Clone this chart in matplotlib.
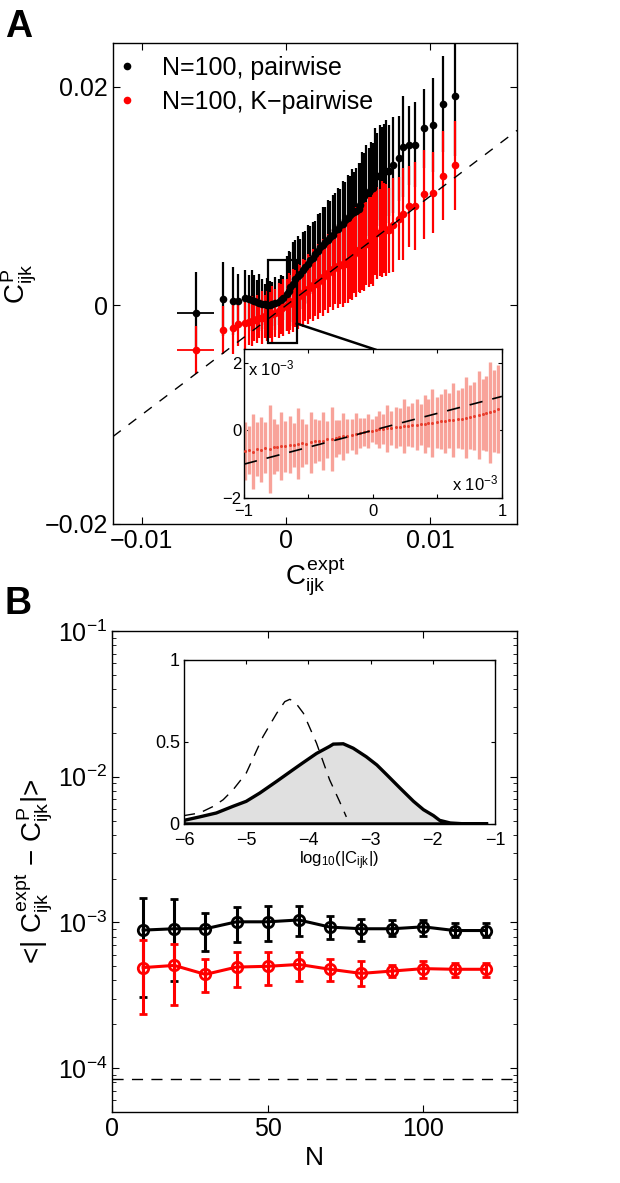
import matplotlib
matplotlib.use('Agg')
import matplotlib.pyplot as plt
import numpy as np
from matplotlib.patches import Rectangle

plt.rcParams['font.family'] = ['Liberation Sans', 'DejaVu Sans']
plt.rcParams['mathtext.fontset'] = 'custom'
plt.rcParams['mathtext.rm'] = 'Liberation Sans'
plt.rcParams['mathtext.it'] = 'Liberation Sans'
plt.rcParams['mathtext.bf'] = 'Liberation Sans:bold'

# ---------------- Panel A data (units of 1e-3) ----------------
c_expt = [-6.27, -4.40, -3.70, -3.31, -2.85, -2.60, -2.38, -2.20, -2.04, -1.85,
          -1.69, -1.50, -1.34, -1.15, -0.99, -0.80, -0.53, -0.35, -0.19, 0.05,
          0.18, 0.28, 0.45, 0.63, 0.80, 0.97, 1.15, 1.32, 1.50, 1.67,
          1.85, 2.01, 2.20, 2.36, 2.54, 2.71, 2.90, 3.06, 3.22, 3.40,
          3.57, 3.75, 3.92, 4.10, 4.27, 4.40, 4.55, 4.68, 4.85, 5.02,
          5.12, 5.25, 5.42, 5.53, 5.72, 5.87, 6.02, 6.18, 6.33, 6.48,
          6.63, 6.76, 6.93, 7.11, 7.41, 7.80, 8.10, 8.50, 8.96, 9.58,
          10.19, 10.88, 11.67]
pair_pred = [-0.67, 0.55, 0.39, 0.39, 0.67, 0.55, 0.46, 0.40, 0.30, 0.22,
             0.15, 0.08, 0.00, 0.05, 0.09, 0.18, 0.30, 0.50, 0.67, 1.07,
             1.35, 1.67, 1.95, 2.44, 2.70, 2.90, 3.20, 3.50, 3.75, 4.11,
             4.30, 4.72, 4.95, 5.33, 5.50, 5.78, 6.00, 6.24, 6.40, 6.85,
             6.95, 7.31, 7.45, 7.76, 7.95, 8.22, 8.40, 8.52, 8.65, 8.83,
             9.20, 9.68, 10.00, 10.29, 10.35, 10.60, 10.75, 11.72, 11.80, 11.87,
             12.10, 12.18, 12.25, 12.33, 12.85, 13.45, 14.52, 14.64, 14.70, 16.19,
             16.53, 18.39, 19.15]
pair_err = [3.7, 3.4, 3.1, 2.5, 2.6, 2.2, 2.8, 2.4, 2.0, 2.6,
            2.3, 1.9, 2.5, 2.2, 2.0, 2.4, 2.1, 2.3, 2.0, 3.4,
            3.6, 3.2, 3.8, 3.5, 3.6, 3.2, 3.5, 3.3, 3.6, 3.1,
            3.3, 3.0, 3.4, 3.1, 3.5, 3.2, 3.6, 3.3, 3.7, 3.4,
            3.8, 3.3, 3.9, 3.5, 4.0, 3.6, 4.1, 3.7, 3.9, 4.2,
            3.8, 4.3, 3.9, 4.4, 4.0, 4.3, 4.1, 4.5, 4.0, 4.6,
            4.2, 4.4, 4.7, 4.2, 4.4, 3.9, 4.6, 3.6, 3.9, 3.6,
            4.3, 4.4, 5.5]
kpair_pred = [-4.05, -2.22, -2.04, -1.74, -1.61, -1.50, -1.42, -1.33, -1.27, -1.18,
              -1.12, -1.02, -0.95, -0.88, -0.80, -0.70, -0.50, -0.36, -0.20, 0.02,
              0.15, 0.27, 0.44, 0.61, 0.80, 0.98, 1.16, 1.37, 1.52, 1.65,
              1.84, 1.98, 2.17, 2.38, 2.55, 2.74, 2.93, 3.10, 3.28, 3.50,
              3.58, 3.66, 3.74, 3.81, 4.05, 4.28, 4.50, 4.72, 4.90, 5.05,
              5.15, 5.33, 5.50, 5.62, 5.78, 5.95, 6.10, 6.64, 6.62, 6.64,
              6.95, 7.06, 6.90, 6.85, 7.37, 7.92, 8.37, 9.07, 9.07, 10.14,
              10.29, 11.87, 12.79]
kpair_err = [2.2, 2.2, 2.4, 2.0, 2.5, 2.1, 2.3, 1.9, 2.2, 1.8,
             2.4, 2.0, 2.3, 2.1, 2.6, 2.2, 2.5, 2.3, 2.6, 2.4,
             2.8, 2.5, 2.9, 2.6, 3.0, 2.7, 3.1, 2.8, 3.2, 2.9,
             3.3, 3.0, 3.4, 3.1, 3.5, 3.2, 3.6, 3.3, 3.7, 3.4,
             3.8, 3.5, 3.9, 3.6, 3.8, 3.7, 4.0, 3.6, 4.1, 3.8,
             4.0, 3.9, 4.2, 3.8, 4.1, 4.0, 4.3, 3.9, 4.2, 4.0,
             4.4, 4.1, 4.2, 3.9, 4.3, 3.8, 4.2, 3.7, 4.0, 4.1,
             3.7, 4.1, 4.1]
first_xerr = 1.3  # horizontal error of the left-most bin

zoom_box = [-1.23, -3.44, 1.97, 7.61]  # x0, y0, width, height (1e-3)
connector_x = [0.74, 6.18]
connector_y = [-1.67, -4.05]

# Inset A data (units of 1e-3)
in_x = [-0.99, -0.96, -0.93, -0.90, -0.87, -0.84, -0.80, -0.77, -0.74, -0.71,
        -0.68, -0.64, -0.61, -0.58, -0.55, -0.52, -0.48, -0.45, -0.42, -0.39,
        -0.36, -0.32, -0.29, -0.26, -0.23, -0.20, -0.16, -0.13, -0.10, -0.07,
        -0.04, -0.01, 0.02, 0.05, 0.08, 0.11, 0.14, 0.18, 0.21, 0.24,
        0.27, 0.30, 0.34, 0.37, 0.40, 0.43, 0.46, 0.50, 0.53, 0.56,
        0.59, 0.62, 0.66, 0.69, 0.72, 0.75, 0.78, 0.82, 0.85, 0.88,
        0.91, 0.94, 0.97]
in_y = [-0.62, -0.58, -0.63, -0.55, -0.57, -0.52, -0.55, -0.48, -0.50, -0.46,
        -0.47, -0.42, -0.44, -0.40, -0.38, -0.40, -0.35, -0.33, -0.31, -0.32,
        -0.27, -0.25, -0.24, -0.20, -0.18, -0.16, -0.13, -0.10, -0.08, -0.05,
        -0.03, -0.01, 0.01, 0.03, 0.04, 0.06, 0.07, 0.09, 0.10, 0.12,
        0.13, 0.15, 0.16, 0.18, 0.19, 0.21, 0.22, 0.24, 0.26, 0.27,
        0.29, 0.31, 0.33, 0.34, 0.37, 0.39, 0.42, 0.44, 0.47, 0.50,
        0.53, 0.57, 0.62]
in_err = [0.85, 0.70, 1.10, 0.80, 0.95, 0.75, 1.30, 0.80, 0.70, 1.00,
          0.75, 0.85, 0.65, 1.05, 0.70, 0.60, 0.90, 0.65, 0.60, 0.85,
          0.55, 0.95, 0.55, 0.50, 0.70, 0.50, 0.45, 0.60, 0.45, 0.40,
          0.50, 0.35, 0.40, 0.55, 0.45, 0.70, 0.50, 0.60, 0.55, 0.80,
          0.60, 0.65, 0.75, 0.60, 0.85, 0.70, 1.00, 0.75, 0.80, 0.95,
          0.80, 1.10, 0.85, 0.90, 1.20, 0.95, 1.00, 1.30, 1.05, 1.10,
          1.50, 1.20, 1.30]

# ---------------- Panel B data ----------------
N_vals = [10, 20, 30, 40, 50, 60, 70, 80, 90, 100, 110, 120]
pair_mean = [8.86e-4, 9.05e-4, 9.05e-4, 1.01e-3, 1.01e-3, 1.04e-3, 9.29e-4, 9.05e-4, 9.05e-4, 9.33e-4, 8.8e-4, 8.8e-4]
pair_hi = [1.48e-3, 1.44e-3, 1.17e-3, 1.27e-3, 1.29e-3, 1.29e-3, 1.10e-3, 1.05e-3, 1.04e-3, 1.04e-3, 9.95e-4, 9.9e-4]
pair_lo = [3.07e-4, 3.98e-4, 6.36e-4, 7.38e-4, 7.4e-4, 8.1e-4, 7.65e-4, 7.45e-4, 8.1e-4, 8.1e-4, 7.9e-4, 7.9e-4]
kpair_mean = [4.9e-4, 5.07e-4, 4.4e-4, 4.94e-4, 5.0e-4, 5.15e-4, 4.77e-4, 4.47e-4, 4.64e-4, 4.82e-4, 4.77e-4, 4.77e-4]
kpair_hi = [7.6e-4, 7.15e-4, 5.58e-4, 6.26e-4, 6.26e-4, 6.26e-4, 5.64e-4, 5.43e-4, 5.07e-4, 5.47e-4, 5.3e-4, 5.3e-4]
kpair_lo = [2.35e-4, 2.7e-4, 3.34e-4, 3.63e-4, 3.7e-4, 3.98e-4, 3.98e-4, 3.66e-4, 4.19e-4, 4.17e-4, 4.2e-4, 4.2e-4]
noise_floor = 8.4e-5

# Inset B data
hist_x_solid = [-6.0, -5.75, -5.48, -5.21, -5.0, -4.78, -4.51, -4.25, -4.10, -3.87,
                -3.66, -3.60, -3.44, -3.28, -3.07, -2.90, -2.74, -2.53, -2.31, -2.15,
                -1.99, -1.89, -1.72, -1.46, -1.11]
hist_solid = [0.022, 0.043, 0.067, 0.108, 0.138, 0.189, 0.26, 0.33, 0.37, 0.43,
              0.473, 0.487, 0.489, 0.462, 0.41, 0.36, 0.30, 0.22, 0.138, 0.087,
              0.051, 0.022, 0.006, 0.0, 0.0]
hist_x_dash = [-6.0, -5.75, -5.53, -5.37, -5.21, -5.0, -4.73, -4.51, -4.38, -4.30,
               -4.22, -4.08, -3.87, -3.66, -3.50, -3.39]
hist_dash = [0.051, 0.067, 0.107, 0.148, 0.209, 0.31, 0.533, 0.675, 0.746, 0.76,
             0.746, 0.675, 0.493, 0.27, 0.138, 0.043]

E = 1e-3
MINUS = '\u2212'

fig = plt.figure(figsize=(6.2, 11.83), dpi=100)

def style(ax, size, length=5):
    ax.tick_params(direction='in', top=True, right=True, labelsize=size,
                   length=length, width=0.8, which='major')
    ax.tick_params(direction='in', top=True, right=True, length=length * 0.55,
                   width=0.6, which='minor')
    for s in ax.spines.values():
        s.set_linewidth(1.0)

# ---------------- Panel A ----------------
axA = fig.add_axes([0.1823, 0.5571, 0.6516, 0.4066])
cx = np.array(c_expt) * E
axA.errorbar(cx, np.array(pair_pred) * E, yerr=np.array(pair_err) * E, fmt='none',
             ecolor='black', elinewidth=1.6, zorder=2)
axA.errorbar(cx, np.array(kpair_pred) * E, yerr=np.array(kpair_err) * E, fmt='none',
             ecolor='red', elinewidth=1.6, zorder=3)
axA.errorbar(cx[:1], np.array(pair_pred[:1]) * E, xerr=first_xerr * E, fmt='none',
             ecolor='black', elinewidth=1.3, zorder=2)
axA.errorbar(cx[:1], np.array(kpair_pred[:1]) * E, xerr=first_xerr * E, fmt='none',
             ecolor='red', elinewidth=1.3, zorder=3)
axA.plot(cx, np.array(pair_pred) * E, 'o', color='black', ms=5.5, mew=0, zorder=4,
         label='N=100, pairwise')
axA.plot(cx, np.array(kpair_pred) * E, 'o', color='red', ms=5.5, mew=0, zorder=4,
         label='N=100, K\u2212pairwise')
axA.axline((0, 0), slope=1, color='black', lw=1.0, ls=(0, (7, 7)), zorder=5)
axA.add_patch(Rectangle((zoom_box[0] * E, zoom_box[1] * E), zoom_box[2] * E, zoom_box[3] * E,
                        fill=False, ec='black', lw=1.6, zorder=6))
axA.plot(np.array(connector_x) * E, np.array(connector_y) * E, color='black', lw=1.8, zorder=6)
axA.set_xlim(-0.012, 0.016)
axA.set_ylim(-0.02, 0.024)
axA.set_xticks([-0.01, 0, 0.01])
axA.set_xticklabels([MINUS + '0.01', '0', '0.01'])
axA.set_yticks([-0.02, 0, 0.02])
axA.set_yticklabels([MINUS + '0.02', '0', '0.02'])
style(axA, 18, 5)
axA.set_xlabel(r'$C^{expt}_{ijk}$', fontsize=20, labelpad=2)
axA.set_ylabel(r'$C^{P}_{ijk}$', fontsize=20, labelpad=4)
leg = axA.legend(loc='upper left', bbox_to_anchor=(-0.028, 1.01), frameon=False, fontsize=18,
                 handlelength=0.6, handletextpad=1.1, labelspacing=0.4, markerscale=1.0,
                 borderaxespad=0.3)

# Inset A
axIA = fig.add_axes([0.3935, 0.579, 0.416, 0.126])
axIA.errorbar(in_x, in_y, yerr=in_err, fmt='none', ecolor='#f8a39a', elinewidth=2.4, zorder=2)
axIA.plot(in_x, in_y, 'o', color='#e8402f', ms=2.2, mew=0, zorder=3)
axIA.axline((0, 0), slope=1, color='black', lw=1.2, ls=(0, (8, 6)), zorder=4)
axIA.set_xlim(-1, 1)
axIA.set_ylim(-2, 2.4)
axIA.set_xticks([-1, -0.5, 0, 0.5, 1])
axIA.set_xticklabels([MINUS + '1', '', '0', '', '1'])
axIA.set_yticks([-2, 0, 2])
axIA.set_yticklabels([MINUS + '2', '0', '2'])
style(axIA, 12, 3)
axIA.tick_params(axis='y', pad=2)
axIA.tick_params(axis='x', pad=4)
axIA.text(0.015, 0.87, r'x 10$^{-3}$', transform=axIA.transAxes, fontsize=12,
          ha='left', va='center')
axIA.text(0.985, 0.10, r'x 10$^{-3}$', transform=axIA.transAxes, fontsize=12,
          ha='right', va='center')

# ---------------- Panel B ----------------
axB = fig.add_axes([0.1806, 0.06, 0.653, 0.4066])
pm = np.array(pair_mean); km = np.array(kpair_mean)
axB.errorbar(N_vals, pm, yerr=[pm - np.array(pair_lo), np.array(pair_hi) - pm], color='black',
             lw=2.2, elinewidth=2.2, capsize=3, capthick=2.2, marker='o', ms=7.5, mfc='none',
             mec='black', mew=2, zorder=3)
axB.errorbar(N_vals, km, yerr=[km - np.array(kpair_lo), np.array(kpair_hi) - km], color='red',
             lw=2.2, elinewidth=2.2, capsize=3, capthick=2.2, marker='o', ms=7.5, mfc='none',
             mec='red', mew=2, zorder=4)
axB.axhline(noise_floor, color='black', lw=1.0, ls=(0, (8, 6)))
axB.set_yscale('log')
axB.set_xlim(0, 130)
axB.set_ylim(5e-5, 1e-1)
axB.set_xticks([0, 50, 100])
axB.set_yticks([1e-4, 1e-3, 1e-2, 1e-1])
axB.set_yticklabels([r'$10^{-4}$', r'$10^{-3}$', r'$10^{-2}$', r'$10^{-1}$'])
axB.yaxis.set_minor_locator(matplotlib.ticker.LogLocator(base=10, subs=np.arange(2, 10)))
axB.yaxis.set_minor_formatter(matplotlib.ticker.NullFormatter())
style(axB, 18, 5)
axB.set_xlabel('N', fontsize=19, labelpad=4)
axB.set_ylabel(r'<| $C^{expt}_{ijk}$ ' + MINUS + r' $C^{P}_{ijk}$|>', fontsize=20, labelpad=2)

# Inset B
axIB = fig.add_axes([0.2968, 0.3035, 0.5016, 0.1386])
axIB.fill(hist_x_solid + [hist_x_solid[0]], hist_solid + [0.0], facecolor='#e0e0e0',
          edgecolor='black', lw=2.4, zorder=2)
axIB.plot(hist_x_dash, hist_dash, color='black', lw=1.0, ls=(0, (8, 6)), zorder=3)
axIB.set_xlim(-6, -1)
axIB.set_ylim(0, 1)
axIB.set_xticks([-6, -5, -4, -3, -2, -1])
axIB.set_xticklabels([MINUS + str(v) for v in [6, 5, 4, 3, 2, 1]])
axIB.set_yticks([0, 0.5, 1])
axIB.set_yticklabels(['0', '0.5', '1'])
style(axIB, 13, 3)
axIB.tick_params(axis='y', pad=3)
axIB.tick_params(axis='x', pad=6)
axIB.set_xlabel(r'log$_{10}$(|C$_{ijk}$|)', fontsize=12, labelpad=0)

fig.text(0.008, 0.992, 'A', fontsize=27, fontweight='bold', va='top', ha='left')
fig.text(0.008, 0.505, 'B', fontsize=27, fontweight='bold', va='top', ha='left')

fig.savefig('out.png', dpi=100)
